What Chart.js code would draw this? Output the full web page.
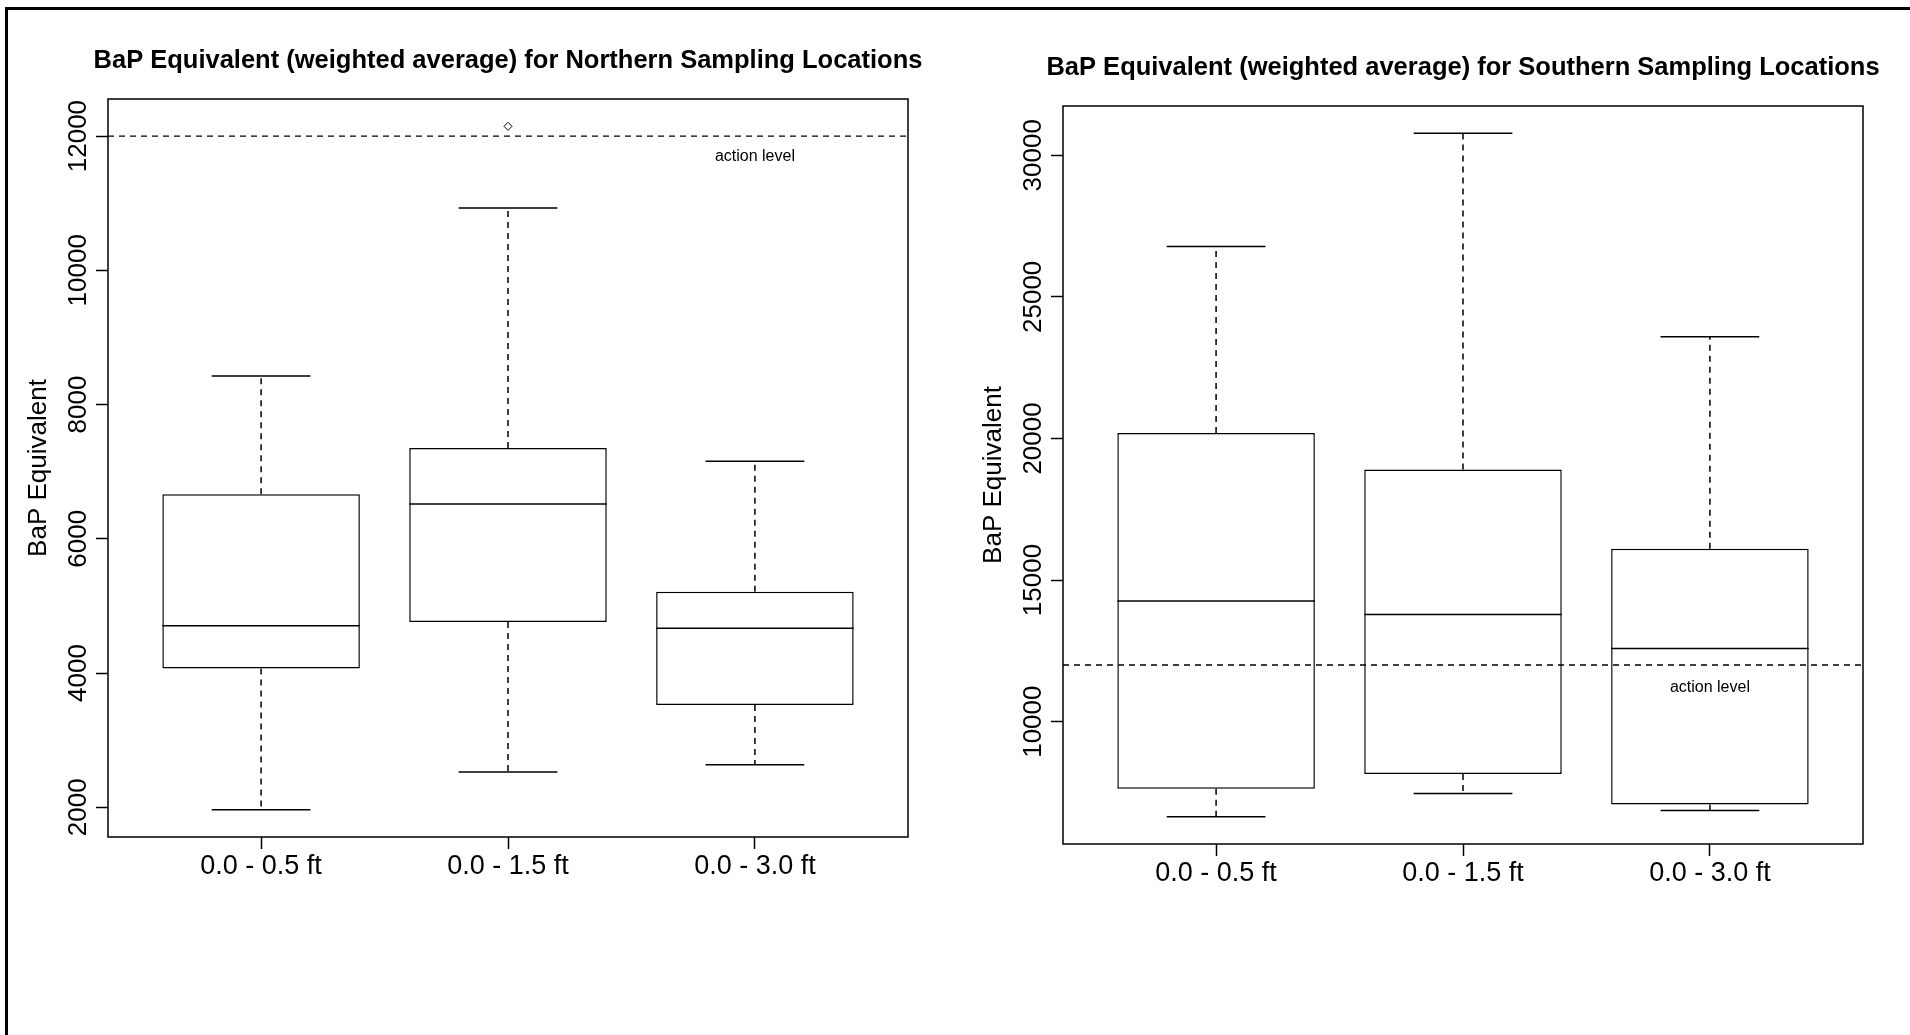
<!DOCTYPE html>
<html><head><meta charset="utf-8">
<script src="https://cdn.jsdelivr.net/npm/chart.js@4/dist/chart.umd.min.js"></script>
<style>
html,body{margin:0;padding:0;background:#fff;width:1910px;height:1035px;overflow:hidden;}
#frame{position:absolute;left:5px;top:7px;width:1905px;height:1028px;border-left:3px solid #000;border-top:3px solid #000;box-sizing:border-box;}
.panel{position:absolute;width:955px;height:1000px;}
#p1{left:0;top:0}
#p2{left:955px;top:7px}
</style></head><body>
<div id="frame"></div>
<div class="panel" id="p1"><canvas id="c1" width="955" height="1000"></canvas></div>
<div class="panel" id="p2"><canvas id="c2" width="955" height="1000"></canvas></div>
<script>
// ---------- data ----------
const categories = ['0.0 - 0.5 ft', '0.0 - 1.5 ft', '0.0 - 3.0 ft'];

const northTitle = 'BaP Equivalent (weighted average) for Northern Sampling Locations';
const northMin    = [1964, 2526, 2635];
const northQ1     = [4069, 4759, 3525];
const northMedian = [4704, 6519, 4668];
const northQ3     = [6664, 7354, 5212];
const northMax    = [8425, 10929, 7154];
const northOutlierCategory = [2];
const northOutlierValue    = [12145];
const northYTicks = [2000, 4000, 6000, 8000, 10000, 12000];
const northActionLabelValue = 11700;

const southTitle = 'BaP Equivalent (weighted average) for Southern Sampling Locations';
const southMin    = [6645, 7462, 6860];
const southQ1     = [7634, 8151, 7075];
const southMedian = [14258, 13785, 12581];
const southQ3     = [20194, 18903, 16108];
const southMax    = [26774, 30774, 23591];
const southOutlierCategory = [];
const southOutlierValue    = [];
const southYTicks = [10000, 15000, 20000, 25000, 30000];
const southActionLabelValue = 11200;

const actionLevel = 12000;
const actionLabel = 'action level';
const actionLabelCategory = 3;
const yAxisTitle = 'BaP Equivalent';

// ---------- drawing ----------
const FONT = '"Liberation Sans", Arial, Helvetica, sans-serif';
Chart.defaults.font.family = FONT;
Chart.defaults.color = '#000';

function makeChart(canvasId, title, mins, q1, med, q3, maxs, outCat, outVal, yTicks, labelValue) {
  const H = 1000;
  const lo = Math.min(...mins, ...outVal), hi = Math.max(...maxs, ...outVal);
  const pad = (hi - lo) * 0.04;

  const boxPlugin = {
    id: 'boxExtras',
    afterDatasetsDraw(chart) {
      const {ctx, chartArea: a, scales: {x, y}} = chart;
      const meta = chart.getDatasetMeta(0);
      ctx.save();
      ctx.strokeStyle = '#000';
      ctx.lineWidth = 1.5;
      categories.forEach((c, i) => {
        const bar = meta.data[i];
        const cx = x.getPixelForValue(i + 1);
        const w = bar.width;
        ctx.setLineDash([]);
        ctx.beginPath();
        ctx.moveTo(cx - w / 2, y.getPixelForValue(med[i]));
        ctx.lineTo(cx + w / 2, y.getPixelForValue(med[i]));
        ctx.stroke();
        ctx.setLineDash([6, 5]);
        ctx.beginPath();
        ctx.moveTo(cx, y.getPixelForValue(q3[i]));
        ctx.lineTo(cx, y.getPixelForValue(maxs[i]));
        ctx.moveTo(cx, y.getPixelForValue(q1[i]));
        ctx.lineTo(cx, y.getPixelForValue(mins[i]));
        ctx.stroke();
        ctx.setLineDash([]);
        ctx.beginPath();
        ctx.moveTo(cx - w / 4, y.getPixelForValue(maxs[i]));
        ctx.lineTo(cx + w / 4, y.getPixelForValue(maxs[i]));
        ctx.moveTo(cx - w / 4, y.getPixelForValue(mins[i]));
        ctx.lineTo(cx + w / 4, y.getPixelForValue(mins[i]));
        ctx.stroke();
      });
      const ay = y.getPixelForValue(actionLevel);
      ctx.setLineDash([6, 5]);
      ctx.lineWidth = 1.3;
      ctx.beginPath();
      ctx.moveTo(a.left, ay);
      ctx.lineTo(a.right, ay);
      ctx.stroke();
      ctx.setLineDash([]);
      ctx.fillStyle = '#000';
      ctx.font = '16px ' + FONT;
      ctx.textAlign = 'center';
      ctx.textBaseline = 'middle';
      ctx.fillText(actionLabel, x.getPixelForValue(actionLabelCategory), y.getPixelForValue(labelValue));
      ctx.lineWidth = 1.5;
      ctx.strokeRect(a.left, a.top, a.right - a.left, a.bottom - a.top);
      // title
      ctx.font = 'bold 25.5px ' + FONT;
      ctx.fillText(title, (a.left + a.right) / 2, a.top - 38);
      // rotated y tick labels
      ctx.font = '26px ' + FONT;
      y.ticks.forEach(t => {
        const py = y.getPixelForValue(t.value);
        ctx.save();
        ctx.translate(a.left - 29, py);
        ctx.rotate(-Math.PI / 2);
        ctx.textAlign = 'center';
        ctx.textBaseline = 'middle';
        ctx.fillText(String(t.value), 0, 0);
        ctx.restore();
      });
      ctx.restore();
    }
  };

  return new Chart(document.getElementById(canvasId), {
    data: {
      datasets: [
        {
          type: 'bar',
          data: categories.map((c, i) => ({x: i + 1, y: [q1[i], q3[i]]})),
          backgroundColor: '#fff',
          borderColor: '#000',
          borderWidth: 1.5,
          borderSkipped: false,
          barPercentage: 0.8,
          categoryPercentage: 1.0
        },
        {
          type: 'scatter',
          data: outCat.map((c, i) => ({x: c, y: outVal[i]})),
          pointStyle: 'rectRot',
          pointRadius: 4,
          backgroundColor: '#fff',
          borderColor: '#000',
          borderWidth: 1
        }
      ]
    },
    options: {
      responsive: false,
      animation: false,
      devicePixelRatio: 1,
      layout: {padding: {left: 0, right: 47, top: 99, bottom: 0}},
      plugins: {
        legend: {display: false},
        tooltip: {enabled: false},
        title: {display: false}
      },
      scales: {
        x: {
          type: 'linear',
          offset: false,
          min: 0.38, max: 3.62,
          afterBuildTicks: s => { s.ticks = categories.map((c, i) => ({value: i + 1})); },
          afterFit: s => { s.height = H - 837; },
          ticks: {
            callback: v => categories[v - 1],
            font: {size: 27, family: FONT}, color: '#000', padding: 1,
            maxRotation: 0, minRotation: 0, autoSkip: false
          },
          grid: {display: true, offset: false, drawOnChartArea: false, drawTicks: true, tickLength: 12, tickColor: '#000', tickWidth: 1.5},
          border: {display: false}
        },
        y: {
          type: 'linear',
          min: lo - pad, max: hi + pad,
          afterBuildTicks: s => { s.ticks = yTicks.map(v => ({value: v})); },
          afterFit: s => { s.width = 108; },
          ticks: {display: false},
          grid: {display: true, drawOnChartArea: false, drawTicks: true, tickLength: 12, tickColor: '#000', tickWidth: 1.5},
          border: {display: false},
          title: {display: true, text: yAxisTitle, color: '#000', font: {size: 26, family: FONT, lineHeight: 1.2}, padding: {top: 23, bottom: 0}}
        }
      }
    },
    plugins: [boxPlugin]
  });
}

makeChart('c1', northTitle, northMin, northQ1, northMedian, northQ3, northMax, northOutlierCategory, northOutlierValue, northYTicks, northActionLabelValue);
makeChart('c2', southTitle, southMin, southQ1, southMedian, southQ3, southMax, southOutlierCategory, southOutlierValue, southYTicks, southActionLabelValue);
</script>
</body></html>
